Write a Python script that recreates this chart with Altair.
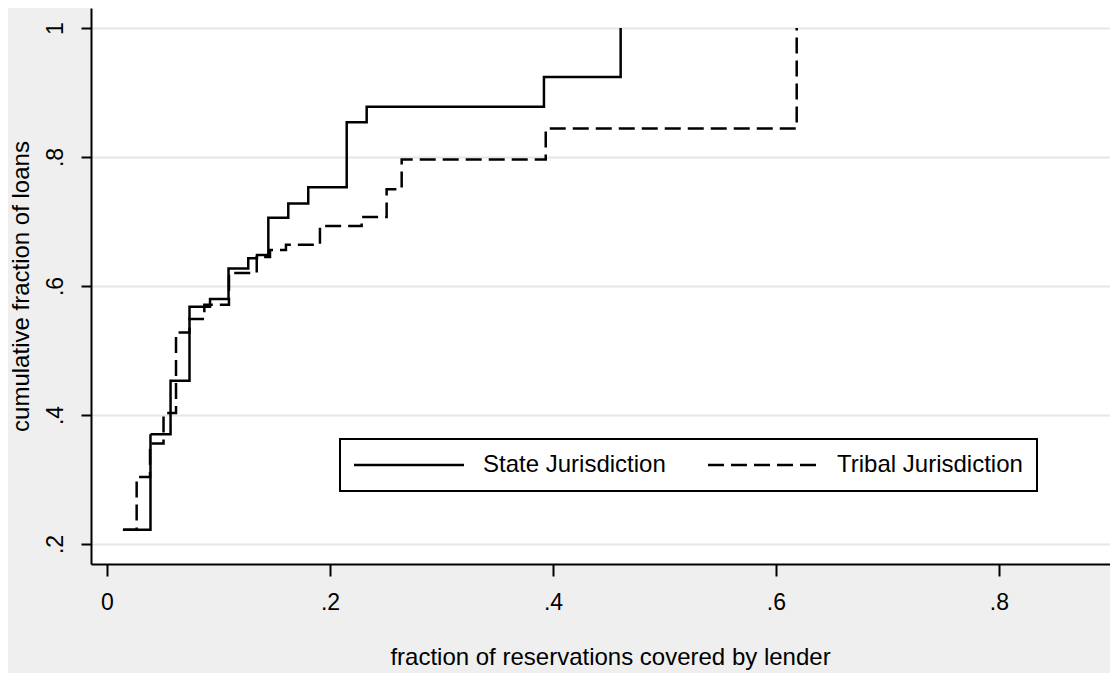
import altair as alt
import pandas as pd

series_names = ["State Jurisdiction", "Tribal Jurisdiction"]

state_x = [0.0143, 0.0390, 0.0570, 0.0740, 0.0924, 0.1090, 0.1267, 0.1345,
           0.1447, 0.1626, 0.1805, 0.2150, 0.2329, 0.3919, 0.4607]
state_y = [0.222, 0.370, 0.453, 0.568, 0.580, 0.627, 0.643, 0.648,
           0.706, 0.728, 0.753, 0.854, 0.878, 0.924, 1.0]

tribal_x = [0.0143, 0.0266, 0.0386, 0.0507, 0.0619, 0.0740, 0.0873, 0.1094,
            0.1343, 0.1462, 0.1605, 0.1910, 0.2284, 0.2508, 0.2643, 0.3935, 0.6186]
tribal_y = [0.222, 0.304, 0.356, 0.403, 0.528, 0.549, 0.571, 0.620,
            0.645, 0.656, 0.664, 0.693, 0.707, 0.750, 0.796, 0.844, 1.0]

x_ticks = [0, 0.2, 0.4, 0.6, 0.8]
y_ticks = [0.2, 0.4, 0.6, 0.8, 1.0]

x_title = "fraction of reservations covered by lender"
y_title = "cumulative fraction of loans"

df = pd.concat([
    pd.DataFrame({"x": state_x, "y": state_y, "series": series_names[0]}),
    pd.DataFrame({"x": tribal_x, "y": tribal_y, "series": series_names[1]}),
], ignore_index=True)

FONT = "Liberation Sans"
label_expr = "replace(format(datum.value, '.1~f'), '0.', '.')"

chart = alt.Chart(df).mark_line(
    interpolate="step-after", color="black", strokeWidth=2.5
).encode(
    x=alt.X("x:Q",
            scale=alt.Scale(domain=[-0.01435, 0.8996], nice=False, zero=False),
            axis=alt.Axis(values=x_ticks, grid=False, title=x_title,
                          labelExpr=label_expr, tickSize=12, labelPadding=15,
                          titleX=519, titleY=93, titleBaseline="middle",
                          titleAlign="center")),
    y=alt.Y("y:Q",
            scale=alt.Scale(domain=[0.169, 1.031], nice=False, zero=False),
            axis=alt.Axis(values=y_ticks, grid=True, title=y_title,
                          labelExpr=label_expr, tickSize=10, labelPadding=19,
                          labelAngle=270, labelAlign="center",
                          labelBaseline="alphabetic",
                          titleX=-70, titleY=278, titleAngle=270,
                          titleAlign="center", titleBaseline="middle")),
    strokeDash=alt.StrokeDash(
        "series:N",
        scale=alt.Scale(domain=series_names, range=[[1, 0], [16, 7]]),
        legend=alt.Legend(orient="none", legendX=249, legendY=431,
                          direction="horizontal", columns=2, title=None,
                          symbolType="M-5.5,0H5.5", symbolSize=400,
                          symbolOffset=43,
                          symbolStrokeWidth=2.5, symbolStrokeColor="black",
                          labelFontSize=24, labelFont=FONT, labelColor="black",
                          labelOffset=62, labelLimit=0, columnPadding=37,
                          padding=14,
                          strokeColor="black", fillColor="white"),
    ),
).properties(
    width=1019,
    height=556,
    autosize=alt.AutoSizeParams(type="none"),
    padding={"left": 83, "top": 0, "right": 0, "bottom": 109},
    background="#efefef",
).configure_view(
    fill="white", stroke=None
).configure_axis(
    domainColor="black", domainWidth=2,
    tickColor="black", tickWidth=2,
    labelFont=FONT, labelFontSize=23, labelColor="black",
    titleFont=FONT, titleFontSize=24, titleColor="black", titleFontWeight="normal",
    gridColor="#e6e6e6", gridWidth=2,
).configure_legend(
    strokeWidth=2
)

chart.save("out.html", embed_options={"renderer": "svg", "actions": False})
